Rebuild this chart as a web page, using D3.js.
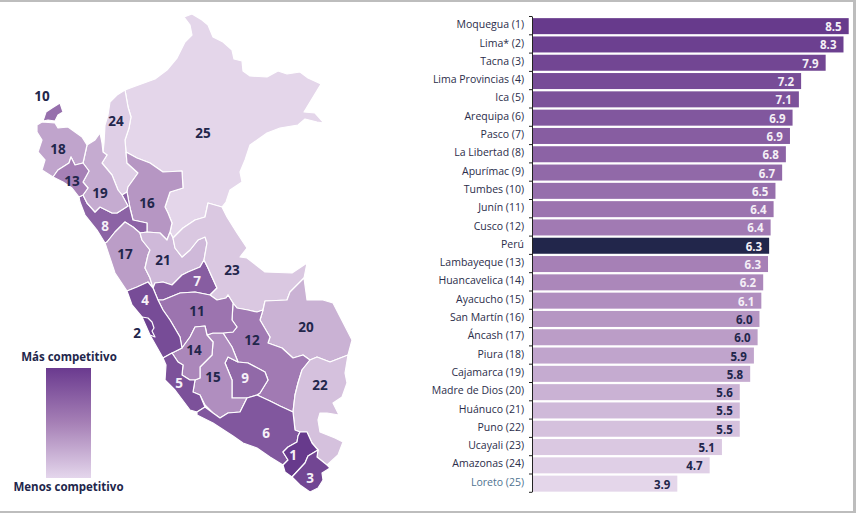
<!DOCTYPE html>
<html lang="es">
<head>
<meta charset="utf-8">
<title>Competitividad regional</title>
<script src="https://cdn.jsdelivr.net/npm/d3@7"></script>
<style>
  html, body { margin: 0; padding: 0; background: #fff; }
  svg { display: block; font-family: "Open Sans", sans-serif; }
</style>
</head>
<body>
<script>
// bar chart data, top to bottom
var barNames = ["Moquegua (1)", "Lima* (2)", "Tacna (3)", "Lima Provincias (4)", "Ica (5)", "Arequipa (6)", "Pasco (7)", "La Libertad (8)", "Apurímac (9)", "Tumbes (10)", "Junín (11)", "Cusco (12)", "Perú", "Lambayeque (13)", "Huancavelica (14)", "Ayacucho (15)", "San Martín (16)", "Áncash (17)", "Piura (18)", "Cajamarca (19)", "Madre de Dios (20)", "Huánuco (21)", "Puno (22)", "Ucayali (23)", "Amazonas (24)", "Loreto (25)"];
var barLengths = [8.5, 8.36, 7.88, 7.22, 7.16, 6.99, 6.92, 6.81, 6.71, 6.53, 6.48, 6.4, 6.36, 6.33, 6.2, 6.15, 6.1, 6.05, 5.95, 5.85, 5.57, 5.57, 5.57, 5.09, 4.76, 3.89];
var printedValues = ["8.5", "8.3", "7.9", "7.2", "7.1", "6.9", "6.9", "6.8", "6.7", "6.5", "6.4", "6.4", "6.3", "6.3", "6.2", "6.1", "6.0", "6.0", "5.9", "5.8", "5.6", "5.5", "5.5", "5.1", "4.7", "3.9"];

// map outlines, in ranking order
var regionRanks = ["Moquegua", "Lima", "Tacna", "Lima Provincias", "Ica", "Arequipa", "Pasco", "La Libertad", "Apurimac", "Tumbes", "Junin", "Cusco", "Lambayeque", "Huancavelica", "Ayacucho", "San Martin", "Ancash", "Piura", "Cajamarca", "Madre de Dios", "Huanuco", "Puno", "Ucayali", "Amazonas", "Loreto"];
var outlines = {
  "Loreto": [[125,90],[133,87],[155,79],[167,70],[177,58],[185,42],[192,35],[190,25],[184,17],[192,14],[202,20],[208,25],[213,37],[223,42],[232,50],[234,59],[242,61],[243,71],[250,76],[267,77],[278,71],[287,74],[300,72],[308,78],[321,84],[304,112],[315,113],[324,123],[317,122],[305,119],[298,125],[280,128],[267,133],[250,145],[245,160],[240,172],[242,182],[230,190],[226,202],[222,207],[208,203],[205,217],[195,220],[183,228],[173,238],[170,232],[172,223],[168,213],[165,207],[170,192],[183,188],[182,171],[163,172],[150,163],[137,158],[126,152],[125,140],[129,128],[131,117],[128,107]],
  "Amazonas": [[125,90],[128,107],[131,117],[129,128],[125,140],[126,152],[127,163],[138,173],[128,187],[127,192],[122,195],[118,190],[112,175],[102,163],[107,155],[103,152],[104,143],[105,125],[108,115],[110,102],[117,95]],
  "San Martin": [[126,152],[137,158],[150,163],[163,172],[182,171],[183,188],[170,192],[165,207],[168,213],[172,223],[170,232],[167,240],[160,233],[147,232],[147,223],[133,220],[130,208],[127,192],[128,187],[138,173],[127,163]],
  "La Libertad": [[79,197],[83,195],[87,203],[95,212],[100,207],[112,213],[117,213],[128,206],[122,195],[127,192],[130,208],[133,220],[147,223],[147,232],[140,233],[133,227],[125,222],[115,232],[107,242],[105,243],[97,230],[85,215],[80,202]],
  "Cajamarca": [[100,133],[102,143],[103,152],[107,155],[102,163],[112,175],[118,190],[122,195],[128,206],[117,213],[112,213],[100,207],[95,212],[87,203],[83,195],[88,188],[83,182],[89,171],[83,163],[87,145],[95,140]],
  "Tumbes": [[43,121],[46,112],[52,108],[60,103],[63,112],[58,115],[55,121],[48,120]],
  "Piura": [[37,132],[37,125],[42,122],[55,123],[58,128],[68,127],[75,132],[82,137],[87,145],[83,163],[75,165],[71,157],[69,163],[58,170],[53,177],[42,170],[45,160],[38,152],[42,140]],
  "Lambayeque": [[71,157],[75,165],[83,163],[89,171],[83,182],[88,188],[83,195],[79,197],[72,188],[63,182],[53,177],[58,170],[69,163]],
  "Ancash": [[105,243],[107,242],[115,232],[125,222],[133,227],[140,233],[142,240],[150,250],[148,255],[145,268],[150,278],[153,288],[148,282],[137,287],[127,291],[115,273]],
  "Huanuco": [[140,233],[147,232],[160,233],[167,240],[170,232],[173,238],[175,248],[182,257],[190,250],[198,240],[205,237],[207,243],[204,260],[200,267],[188,272],[182,275],[172,285],[163,282],[155,283],[153,288],[150,278],[145,268],[148,255],[150,250],[142,240]],
  "Pasco": [[153,288],[155,283],[163,282],[172,285],[182,275],[188,272],[200,267],[204,260],[208,268],[212,277],[217,288],[210,295],[195,292],[180,293],[163,300],[158,300]],
  "Ucayali": [[222,207],[227,217],[237,233],[247,248],[240,257],[247,258],[265,272],[292,273],[307,263],[304,278],[290,292],[287,300],[265,301],[263,310],[257,312],[248,310],[237,308],[233,303],[228,295],[226,298],[217,300],[210,295],[217,288],[212,277],[208,268],[204,260],[207,243],[205,237],[198,240],[190,250],[182,257],[175,248],[173,238],[183,228],[195,220],[205,217],[208,203]],
  "Madre de Dios": [[263,310],[265,301],[287,300],[290,292],[304,278],[307,300],[323,300],[333,303],[352,340],[348,355],[330,362],[317,357],[310,360],[303,355],[293,358],[282,348],[268,343],[270,337],[260,320]],
  "Cusco": [[233,303],[237,308],[248,310],[257,312],[263,310],[260,320],[270,337],[268,343],[282,348],[293,358],[303,355],[310,360],[302,370],[298,383],[295,395],[293,412],[280,406],[270,401],[257,395],[260,393],[268,380],[265,372],[248,363],[238,362],[232,347],[223,333],[233,332],[237,327],[232,320]],
  "Puno": [[310,360],[317,357],[330,362],[348,355],[345,373],[347,383],[342,397],[333,403],[339,415],[327,413],[320,413],[318,420],[320,432],[335,438],[343,442],[338,455],[327,465],[317,457],[318,450],[312,443],[307,432],[300,432],[295,430],[293,412],[295,395],[298,383],[302,370]],
  "Apurimac": [[228,357],[238,362],[248,363],[265,372],[268,380],[260,393],[257,395],[247,398],[232,398],[232,380],[225,363]],
  "Ayacucho": [[207,335],[213,333],[223,333],[232,347],[238,362],[228,357],[225,363],[232,380],[232,398],[247,398],[240,412],[228,413],[220,418],[213,413],[205,405],[200,395],[193,392],[195,380],[200,378],[200,367],[212,355],[213,342]],
  "Junin": [[158,300],[163,300],[180,293],[195,292],[210,295],[217,300],[226,298],[228,295],[233,303],[232,320],[237,327],[233,332],[223,333],[213,333],[207,335],[205,326],[195,327],[190,337],[182,348],[180,337],[170,320],[163,310]],
  "Huancavelica": [[182,348],[190,337],[195,327],[205,326],[207,335],[213,342],[212,355],[200,367],[200,378],[195,380],[190,380],[182,375],[183,365],[178,362],[172,353]],
  "Lima Provincias": [[127,291],[137,287],[148,282],[153,288],[158,300],[163,310],[170,320],[180,337],[182,348],[172,353],[163,358],[150,335],[142,317],[132,305]],
  "Lima": [[142,317],[148,318],[152,322],[154,328],[152,331],[155,337],[150,335]],
  "Ica": [[172,353],[178,362],[183,365],[182,375],[190,380],[195,380],[193,392],[200,395],[205,407],[197,412],[190,410],[175,390],[165,380],[166,365],[163,358]],
  "Arequipa": [[197,412],[205,407],[213,413],[220,418],[228,413],[240,412],[247,398],[257,395],[270,401],[280,406],[293,412],[295,430],[300,432],[298,436],[297,442],[288,447],[283,452],[288,460],[283,465],[270,457],[257,448],[243,443],[233,436],[213,423],[197,415]],
  "Moquegua": [[300,432],[307,432],[312,443],[318,450],[308,456],[305,463],[292,477],[285,472],[283,465],[288,460],[283,452],[288,447],[297,442],[298,436]],
  "Tacna": [[318,450],[317,457],[327,465],[330,468],[322,473],[323,480],[318,488],[310,492],[300,485],[292,477],[305,463],[308,456]]
};

var width = 856, height = 513;
var navy = "#22264b", frame = "#bdbdbd";

var svg = d3.select("body").append("svg")
  .attr("width", width)
  .attr("height", height);

// grey frame of the pasted image
svg.append("rect").attr("width", width).attr("height", 2).attr("fill", frame);
svg.append("rect").attr("y", 511).attr("width", width).attr("height", 2).attr("fill", frame);
svg.append("rect").attr("x", 853).attr("width", 3).attr("height", height).attr("fill", frame);

//colour by rank, dark to pale
var rankColor = d3.scaleLinear()
  .domain([0, 12, 24])
  .range(["#673a8c", "#a680b6", "#e4d6ea"]);

//bars
var top0 = 17, step = 18.3;
var x = d3.scaleLinear().domain([0, 8.5]).range([532.7, 848.7]);
var y = d3.scaleBand()
  .domain(barNames)
  .range([top0, top0 + step * barNames.length])
  .paddingInner(0.125)
  .paddingOuter(0.0625);
var edges = d3.scaleLinear()
  .domain([0, barNames.length])
  .range([top0 - 1, top0 - 1 + step * barNames.length]);

function barColor(name) {
  if (name === "Perú") return navy;
  var rank = +name.match(/\d+/)[0];
  return rankColor(rank - 1);
}

svg.selectAll("rect.bar")
  .data(barNames)
  .enter().append("rect")
    .attr("class", "bar")
    .attr("x", x(0))
    .attr("y", function(d) { return y(d); })
    .attr("width", function(d, i) { return x(barLengths[i]) - x(0); })
    .attr("height", y.bandwidth())
    .attr("fill", barColor);

svg.selectAll("text.val")
  .data(barNames)
  .enter().append("text")
    .attr("class", "val")
    .attr("x", function(d, i) { return x(barLengths[i]) - 7; })
    .attr("y", function(d) { return y(d) + y.bandwidth() / 2 + 5; })
    .attr("text-anchor", "end")
    .attr("font-size", 11.5)
    .attr("font-weight", 700)
    .attr("fill", function(d, i) { return i >= 16 ? navy : "#f4eff6"; })
    .text(function(d, i) { return printedValues[i]; });

//axis: labels from the band scale, ticks on the band edges
var labelAxis = svg.append("g")
  .attr("transform", "translate(532,0)")
  .call(d3.axisLeft(y).tickSize(0).tickPadding(8));
labelAxis.select(".domain").remove();
labelAxis.selectAll("text")
  .attr("font-size", 10.5)
  .attr("dy", "0.2em")
  .attr("fill", function(d) { return d === "Loreto (25)" ? "#4f7391" : "#2b2d4a"; })
  .style("font-family", '"Open Sans", sans-serif');

svg.append("g")
  .attr("transform", "translate(532,0)")
  .call(d3.axisLeft(edges).tickValues(d3.range(barNames.length + 1)).tickSize(3).tickSizeOuter(0).tickFormat(""))
  .selectAll("path,line").attr("stroke", "#222");

//map
var regions = {
  type: "FeatureCollection",
  features: Object.keys(outlines).map(function(name) {
    var ring = outlines[name].concat([outlines[name][0]]);
    return { type: "Feature", properties: { name: name }, geometry: { type: "Polygon", coordinates: [ring] } };
  })
};
var path = d3.geoPath(d3.geoIdentity());

svg.append("g").selectAll("path")
  .data(regions.features)
  .enter().append("path")
    .attr("d", path)
    .attr("fill", function(d) { return rankColor(regionRanks.indexOf(d.properties.name)); })
    .attr("stroke", "#fff")
    .attr("stroke-width", 1.2)
    .attr("stroke-linejoin", "round");

// rank numbers on the map
var mapLabels = [
  [1, 293, 455], [2, 137, 333], [3, 310, 478], [4, 145, 300], [5, 179, 383],
  [6, 266, 433], [7, 197, 281], [8, 105, 226], [9, 245, 378], [10, 42, 96],
  [11, 197, 311], [12, 252, 340], [13, 72, 181], [14, 194, 350], [15, 213, 377],
  [16, 147, 203], [17, 125, 254], [18, 58, 149], [19, 100, 193], [20, 306, 327],
  [21, 163, 260], [22, 320, 385], [23, 232, 270], [24, 116, 121], [25, 203, 133]
];
svg.append("g").selectAll("text")
  .data(mapLabels)
  .enter().append("text")
    .attr("x", function(d) { return d[1]; })
    .attr("y", function(d) { return d[2] + 5; })
    .attr("text-anchor", "middle")
    .attr("font-size", 13.5)
    .attr("font-weight", 700)
    .attr("fill", function(d) { return d[0] < 10 && d[0] !== 2 ? "#f6f1f8" : navy; })
    .text(function(d) { return d[0]; });

//legend
var grad = svg.append("defs").append("linearGradient")
  .attr("id", "legendGrad")
  .attr("x1", 0).attr("x2", 0).attr("y1", 0).attr("y2", 1);
grad.append("stop").attr("offset", "0%").attr("stop-color", "#6a3a8f");
grad.append("stop").attr("offset", "50%").attr("stop-color", "#a680b6");
grad.append("stop").attr("offset", "100%").attr("stop-color", "#e4d6ec");

svg.append("rect")
  .attr("x", 46).attr("y", 368)
  .attr("width", 45).attr("height", 110)
  .attr("fill", "url(#legendGrad)");

svg.append("text")
  .attr("x", 69).attr("y", 361)
  .attr("text-anchor", "middle")
  .attr("font-size", 11.5).attr("font-weight", 700).attr("fill", navy)
  .text("Más competitivo");
svg.append("text")
  .attr("x", 68.5).attr("y", 491)
  .attr("text-anchor", "middle")
  .attr("font-size", 11.5).attr("font-weight", 700).attr("fill", navy)
  .text("Menos competitivo");
</script>
</body>
</html>
